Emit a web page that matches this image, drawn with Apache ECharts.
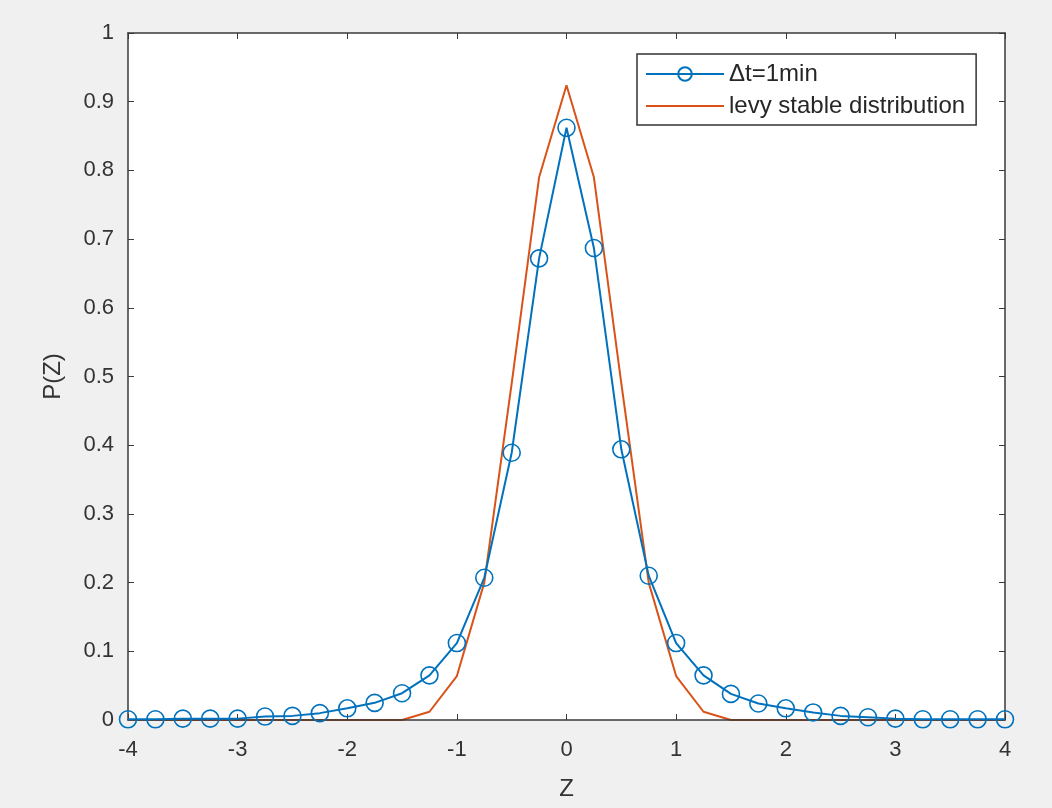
<!DOCTYPE html>
<html>
<head>
<meta charset="utf-8">
<script src="https://cdn.jsdelivr.net/npm/echarts@6/dist/echarts.min.js"></script>
<style>
  html, body { margin: 0; padding: 0; background: #f0f0f0; }
  #chart { width: 1052px; height: 808px; }
</style>
</head>
<body>
<div id="chart"></div>
<script>
// z values, step 0.25 from -4 to 4
var zValues = [-4, -3.75, -3.5, -3.25, -3, -2.75, -2.5, -2.25, -2, -1.75, -1.5, -1.25, -1, -0.75, -0.5, -0.25,
               0, 0.25, 0.5, 0.75, 1, 1.25, 1.5, 1.75, 2, 2.25, 2.5, 2.75, 3, 3.25, 3.5, 3.75, 4];

// empirical P(Z), dt = 1min
var empirical = [0.001, 0.001, 0.002, 0.002, 0.002, 0.005, 0.006, 0.010, 0.017, 0.025, 0.039, 0.065, 0.112, 0.207, 0.389, 0.672,
                 0.862, 0.687, 0.394, 0.210, 0.112, 0.065, 0.038, 0.024, 0.017, 0.011, 0.006, 0.004, 0.002, 0.001, 0.001, 0.001, 0.001];

// levy stable fit
var levy = [0, 0, 0, 0, 0, 0, 0, 0, 0, 0, 0, 0.012, 0.064, 0.200, 0.490, 0.790,
            0.924, 0.790, 0.490, 0.200, 0.064, 0.012, 0, 0, 0, 0, 0, 0, 0, 0, 0, 0, 0];

var seriesNames = ['\u0394t=1min', 'levy stable distribution'];

function pairs(ys) {
    return zValues.map(function (z, i) { return [z, ys[i]]; });
}

var axisColor = '#3a3a3a';
var font = 'Liberation Sans, Arial, sans-serif';
var blue = '#0072BD';
var orange = '#D95319';

var chart = echarts.init(document.getElementById('chart'));

var option = {
    backgroundColor: '#f0f0f0',
    animation: false,
    grid: {
        left: 128, right: 47, top: 33, bottom: 88,
        show: true, backgroundColor: '#ffffff', borderWidth: 0
    },
    legend: {
        orient: 'vertical',
        left: 637, top: 54,
        padding: [8, 11, 7, 8],
        itemGap: 8,
        itemWidth: 78, itemHeight: 17,
        backgroundColor: '#ffffff',
        borderColor: '#333333', borderWidth: 1.5,
        textStyle: { fontFamily: font, fontSize: 24, color: '#262626' },
        data: [
            { name: seriesNames[0] },
            { name: seriesNames[1], itemStyle: { opacity: 0 } }
        ]
    },
    xAxis: [{
        type: 'value', min: -4, max: 4, interval: 1,
        name: 'Z', nameLocation: 'middle', nameGap: 57,
        nameTextStyle: { fontFamily: font, fontSize: 24, color: '#333' },
        z: 3,
        axisLine: { show: true, onZero: false, lineStyle: { color: axisColor, width: 1.5 } },
        axisTick: { inside: true, length: 6, lineStyle: { color: axisColor } },
        axisLabel: { margin: 19, fontFamily: font, fontSize: 22, color: '#333' },
        splitLine: { show: false }
    }, {
        type: 'value', min: -4, max: 4, interval: 1, position: 'top',
        z: 3,
        axisLine: { show: true, onZero: false, lineStyle: { color: axisColor, width: 1.5 } },
        axisTick: { inside: true, length: 6, lineStyle: { color: axisColor } },
        axisLabel: { show: false },
        splitLine: { show: false }
    }],
    yAxis: [{
        type: 'value', min: 0, max: 1, interval: 0.1,
        name: 'P(Z)', nameLocation: 'middle', nameGap: 63,
        nameTextStyle: { fontFamily: font, fontSize: 24, color: '#333' },
        axisLine: { show: true, onZero: false, lineStyle: { color: axisColor, width: 1.5 } },
        axisTick: { inside: true, length: 6, lineStyle: { color: axisColor } },
        axisLabel: { margin: 14, fontFamily: font, fontSize: 22, color: '#333' },
        splitLine: { show: false }
    }, {
        type: 'value', min: 0, max: 1, interval: 0.1, position: 'right',
        axisLine: { show: true, onZero: false, lineStyle: { color: axisColor, width: 1.5 } },
        axisTick: { inside: true, length: 6, lineStyle: { color: axisColor } },
        axisLabel: { show: false },
        splitLine: { show: false }
    }],
    series: [{
        name: seriesNames[1],
        type: 'line',
        data: pairs(levy),
        symbol: 'none',
        z: 2,
        lineStyle: { color: orange, width: 2 },
        itemStyle: { color: orange }
    }, {
        name: seriesNames[0],
        type: 'line',
        data: pairs(empirical),
        symbol: 'circle',
        symbolSize: 17,
        showAllSymbol: true,
        z: 4,
        lineStyle: { color: blue, width: 2 },
        itemStyle: { color: 'rgba(255,255,255,0)', borderColor: blue, borderWidth: 1.6 }
    }]
};

chart.setOption(option);
</script>
</body>
</html>
